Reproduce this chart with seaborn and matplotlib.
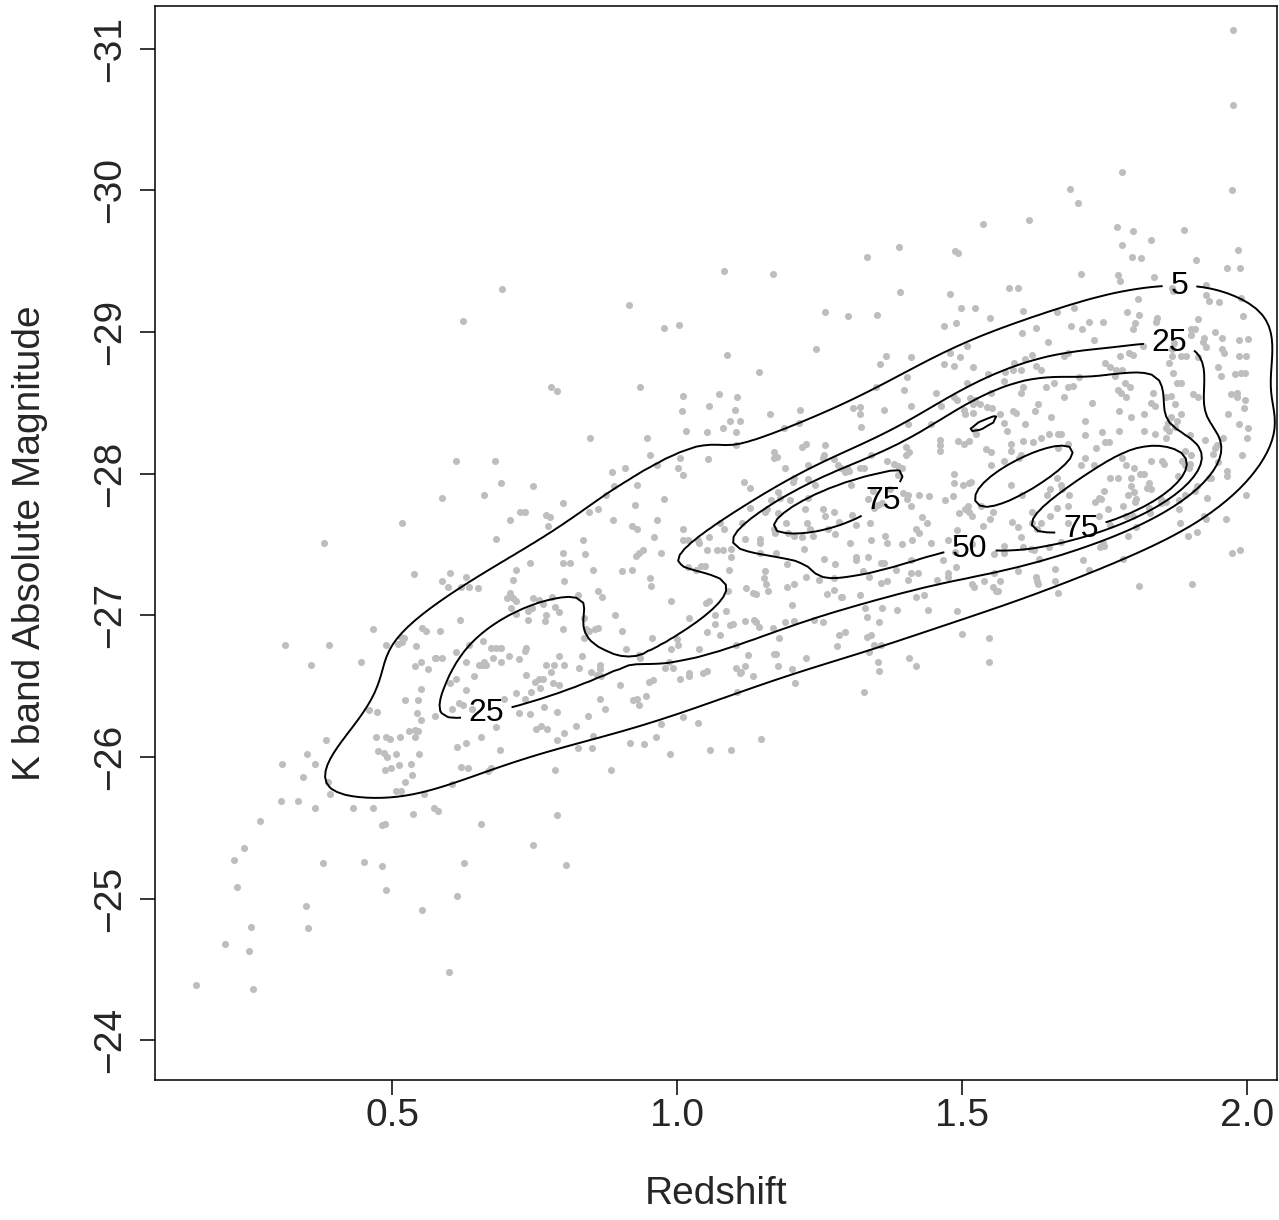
import matplotlib
matplotlib.use("Agg")
import numpy as np
import matplotlib.pyplot as plt
import seaborn as sns
from matplotlib.contour import ContourSet

# (redshift, K band absolute magnitude), grouped by region
upper_sparse = [
    (0.693, -29.30), (0.625, -29.08),
    (1.389, -29.60), (1.333, -29.53), (1.082, -29.43), (1.168, -29.41), (1.391, -29.28), (0.916, -29.19),
    (1.260, -29.14), (1.300, -29.11), (1.351, -29.12), (0.977, -29.03), (1.004, -29.05), (1.088, -28.84),
    (1.244, -28.88), (1.367, -28.83),
]
upper_mid = [
    (1.689, -30.01), (1.704, -29.91), (1.537, -29.76), (1.618, -29.79), (1.488, -29.57), (1.493, -29.56),
    (1.709, -29.41), (1.479, -29.27), (1.582, -29.31), (1.598, -29.31), (1.498, -29.17), (1.523, -29.17),
    (1.549, -29.10), (1.607, -29.15), (1.667, -29.14), (1.696, -29.17), (1.468, -29.04), (1.489, -29.06),
    (1.691, -29.04), (1.711, -29.02), (1.723, -29.07), (1.605, -28.99), (1.630, -29.03), (1.509, -28.90),
    (1.651, -28.93), (1.479, -28.85), (1.411, -28.82), (1.496, -28.82), (1.623, -28.84), (1.679, -28.83),
    (1.686, -28.85), (1.611, -28.81),
]
upper_right = [
    (1.975, -31.13), (1.975, -30.60), (1.781, -30.13), (1.974, -30.00), (1.772, -29.74), (1.800, -29.71),
    (1.832, -29.65), (1.889, -29.72), (1.781, -29.61), (1.798, -29.53), (1.814, -29.52), (1.911, -29.51),
    (1.984, -29.58), (1.965, -29.45), (1.988, -29.45), (1.774, -29.40), (1.777, -29.36), (1.837, -29.39),
    (1.868, -29.31), (1.870, -29.29), (1.928, -29.33), (1.928, -29.26), (1.933, -29.22), (1.951, -29.21),
    (1.989, -29.24), (1.809, -29.23), (1.789, -29.14), (1.811, -29.12), (1.747, -29.07), (1.804, -29.06),
    (1.800, -29.02), (1.842, -29.10), (1.840, -29.07), (1.914, -29.09), (1.993, -29.11), (1.902, -29.02),
    (1.909, -29.02), (1.902, -28.98), (1.944, -29.00), (1.925, -28.96), (1.923, -28.93), (1.928, -28.89),
    (1.956, -28.96), (1.986, -28.94), (2.002, -28.95), (1.732, -28.94), (1.818, -28.90), (1.872, -28.92),
    (1.868, -28.88), (1.956, -28.88), (1.960, -28.85), (1.777, -28.83), (1.793, -28.85), (1.800, -28.84),
    (1.868, -28.83), (1.884, -28.83), (1.893, -28.83), (1.914, -28.82), (1.986, -28.83), (1.998, -28.83),
]
left_mid = [
    (0.518, -27.65), (0.381, -27.51), (0.539, -27.29), (0.467, -26.90), (0.553, -26.91), (0.560, -26.89),
    (0.312, -26.79), (0.389, -26.79), (0.489, -26.79), (0.516, -26.85), (0.521, -26.84), (0.511, -26.80),
    (0.518, -26.81), (0.542, -26.78), (0.358, -26.65), (0.446, -26.67), (0.540, -26.64), (0.551, -26.67),
    (0.563, -26.62), (0.575, -26.70), (0.551, -26.48), (0.523, -26.40), (0.546, -26.40), (0.460, -26.33),
    (0.474, -26.32), (0.544, -26.31), (0.575, -26.29),
]
low_z_core = [
    (0.779, -28.61), (0.789, -28.58), (0.935, -28.61), (1.011, -28.55), (1.009, -28.44), (1.056, -28.48),
    (1.016, -28.30), (1.053, -28.29), (0.847, -28.25), (0.947, -28.25), (0.953, -28.13), (1.005, -28.11),
    (1.054, -28.10), (0.612, -28.09), (0.681, -28.09), (0.909, -28.04), (0.965, -28.06), (1.002, -28.04),
    (1.011, -27.99), (0.886, -28.01), (0.691, -27.93), (0.747, -27.91), (0.889, -27.91), (0.930, -27.92),
    (0.661, -27.85), (0.875, -27.85), (0.977, -27.82), (0.588, -27.83), (0.926, -27.78), (0.800, -27.79),
    (0.725, -27.73), (0.733, -27.73), (0.846, -27.73), (0.861, -27.75), (0.770, -27.71), (0.777, -27.69),
    (0.707, -27.67), (0.774, -27.63), (0.888, -27.67), (0.965, -27.67), (0.921, -27.63), (0.930, -27.61),
    (1.011, -27.61), (0.682, -27.54), (0.960, -27.55), (0.835, -27.53), (1.011, -27.53), (1.019, -27.53),
    (1.037, -27.53), (1.039, -27.51), (1.056, -27.55), (0.839, -27.43), (0.800, -27.44), (0.928, -27.42),
    (0.933, -27.44), (0.940, -27.46), (0.972, -27.44), (1.053, -27.46), (0.742, -27.37), (0.800, -27.37),
    (0.812, -27.37), (0.718, -27.32), (0.853, -27.32), (0.904, -27.31), (0.921, -27.32), (1.019, -27.34),
    (1.033, -27.32), (1.042, -27.35), (1.049, -27.35), (0.602, -27.30), (0.588, -27.24), (0.630, -27.27),
    (0.598, -27.20), (0.621, -27.20), (0.635, -27.20), (0.651, -27.19), (0.712, -27.25), (0.802, -27.24),
    (0.953, -27.26), (0.954, -27.21), (0.707, -27.16), (0.861, -27.17), (0.868, -27.13), (0.826, -27.14),
    (0.702, -27.12), (0.712, -27.12), (0.718, -27.10), (0.747, -27.12), (0.758, -27.11), (0.765, -27.08),
    (0.781, -27.13), (0.709, -27.05), (0.718, -27.01), (0.739, -27.03), (0.746, -27.05), (0.739, -26.97),
    (0.770, -27.00), (0.768, -26.96), (0.786, -27.06), (0.793, -27.02), (0.989, -27.10), (1.056, -27.10),
    (1.051, -27.09), (1.067, -27.00), (0.891, -27.00), (0.837, -26.98), (1.021, -26.98), (0.619, -26.97),
    (0.584, -26.89), (0.800, -26.90), (0.840, -26.90), (0.846, -26.89), (0.861, -26.91), (0.856, -26.90),
    (0.904, -26.89), (1.053, -26.88), (1.067, -26.94), (0.660, -26.82), (0.956, -26.84), (1.000, -26.83),
    (1.002, -26.79), (0.635, -26.79), (0.837, -26.84), (0.674, -26.77), (0.682, -26.77), (0.691, -26.77),
    (0.735, -26.77), (0.733, -26.75), (0.612, -26.74), (0.911, -26.76), (0.989, -26.76), (1.039, -26.76),
    (0.588, -26.70), (0.577, -26.70), (0.933, -26.72), (0.935, -26.70), (0.677, -26.70), (0.705, -26.71),
    (0.723, -26.69), (0.793, -26.71), (0.833, -26.71), (0.691, -26.67), (0.630, -26.67), (0.653, -26.65),
    (0.658, -26.65), (0.665, -26.65), (0.661, -26.67), (0.770, -26.65), (0.784, -26.65), (0.802, -26.65),
    (0.865, -26.65), (0.865, -26.62), (0.860, -26.58), (0.867, -26.57), (0.849, -26.60), (0.828, -26.63),
    (0.986, -26.67), (0.979, -26.63), (0.993, -26.63), (0.779, -26.60), (0.644, -26.57), (0.735, -26.58),
    (1.021, -26.59), (1.021, -26.57), (1.046, -26.59), (1.053, -26.61), (1.005, -26.55), (0.751, -26.53),
    (0.758, -26.55), (0.765, -26.55), (0.602, -26.52), (0.612, -26.55), (0.782, -26.52), (0.793, -26.51),
    (0.900, -26.51), (0.951, -26.53), (0.958, -26.54), (0.760, -26.49), (0.630, -26.47), (0.718, -26.45),
    (0.744, -26.46), (0.696, -26.41), (0.733, -26.41), (0.618, -26.38), (0.625, -26.37), (0.930, -26.41),
    (0.923, -26.40), (0.946, -26.43), (0.933, -26.37), (0.865, -26.41), (0.767, -26.35), (0.874, -26.34),
    (0.605, -26.34), (0.640, -26.34), (0.723, -26.31), (0.742, -26.30), (0.789, -26.32), (0.844, -26.29),
    (1.011, -26.28),
]
mid_z_core = [
    (1.356, -28.77), (1.468, -28.77), (1.486, -28.76), (1.519, -28.75), (1.144, -28.72), (1.404, -28.68),
    (1.509, -28.64), (1.546, -28.70), (1.349, -28.61), (1.398, -28.59), (1.454, -28.57), (1.551, -28.57),
    (1.074, -28.56), (1.105, -28.54), (1.486, -28.54), (1.491, -28.52), (1.514, -28.53), (1.523, -28.52),
    (1.532, -28.49), (1.519, -28.49), (1.544, -28.47), (1.553, -28.46), (1.309, -28.46), (1.321, -28.47),
    (1.411, -28.48), (1.363, -28.45), (1.463, -28.48), (1.102, -28.45), (1.216, -28.45), (1.504, -28.45),
    (1.505, -28.42), (1.519, -28.43), (1.163, -28.42), (1.321, -28.42), (1.093, -28.37), (1.111, -28.37),
    (1.081, -28.32), (1.214, -28.36), (1.405, -28.35), (1.446, -28.35), (1.323, -28.33), (1.188, -28.32),
    (1.104, -28.29), (1.523, -28.30), (1.525, -28.28), (1.461, -28.24), (1.461, -28.20), (1.461, -28.16),
    (1.493, -28.23), (1.504, -28.21), (1.512, -28.23), (1.226, -28.21), (1.219, -28.19), (1.260, -28.20),
    (1.402, -28.19), (1.407, -28.15), (1.402, -28.13), (1.104, -28.20), (1.542, -28.17), (1.551, -28.15),
    (1.170, -28.15), (1.175, -28.12), (1.170, -28.11), (1.258, -28.13), (1.256, -28.11), (1.340, -28.13),
    (1.275, -28.10), (1.302, -28.02), (1.368, -28.09), (1.381, -28.07), (1.388, -28.05), (1.395, -28.04),
    (1.321, -28.04), (1.328, -28.04), (1.282, -28.06), (1.288, -28.04), (1.295, -28.01), (1.298, -28.04),
    (1.189, -28.04), (1.230, -28.06), (1.388, -27.99), (1.551, -28.06), (1.512, -27.93), (1.502, -27.92),
    (1.516, -27.94), (1.486, -28.00), (1.486, -27.93), (1.118, -27.94), (1.128, -27.90), (1.205, -27.97),
    (1.204, -27.94), (1.230, -27.96), (1.242, -27.92), (1.305, -27.92), (1.344, -27.88), (1.374, -27.89),
    (1.396, -27.86), (1.405, -27.85), (1.404, -27.82), (1.425, -27.85), (1.442, -27.84), (1.484, -27.84),
    (1.177, -27.87), (1.181, -27.83), (1.165, -27.81), (1.198, -27.81), (1.230, -27.83), (1.128, -27.76),
    (1.256, -27.75), (1.335, -27.82), (1.346, -27.76), (1.353, -27.78), (1.360, -27.79), (1.411, -27.77),
    (1.470, -27.81), (1.511, -27.77), (1.533, -27.77), (1.505, -27.75), (1.512, -27.73), (1.518, -27.70),
    (1.554, -27.73), (1.154, -27.73), (1.158, -27.75), (1.177, -27.72), (1.225, -27.75), (1.275, -27.73),
    (1.307, -27.71), (1.260, -27.70), (1.075, -27.65), (1.082, -27.61), (1.114, -27.65), (1.191, -27.65),
    (1.228, -27.65), (1.233, -27.61), (1.239, -27.56), (1.284, -27.66), (1.314, -27.64), (1.339, -27.65),
    (1.430, -27.69), (1.439, -27.65), (1.419, -27.61), (1.425, -27.58), (1.495, -27.72), (1.491, -27.60),
    (1.537, -27.63), (1.549, -27.68), (1.170, -27.61), (1.172, -27.58), (1.195, -27.58), (1.205, -27.56),
    (1.219, -27.55), (1.265, -27.61), (1.277, -27.57), (1.119, -27.54), (1.146, -27.54), (1.146, -27.51),
    (1.365, -27.56), (1.368, -27.51), (1.340, -27.53), (1.395, -27.50), (1.412, -27.53), (1.446, -27.51),
    (1.475, -27.53), (1.518, -27.50), (1.070, -27.46), (1.081, -27.46), (1.095, -27.47), (1.095, -27.41),
    (1.304, -27.51), (1.146, -27.44), (1.223, -27.47), (1.174, -27.44), (1.335, -27.41), (1.314, -27.41),
    (1.314, -27.39), (1.258, -27.40), (1.277, -27.36), (1.358, -27.37), (1.363, -27.37), (1.411, -27.39),
    (1.467, -27.39), (1.488, -27.45), (1.556, -27.43), (1.193, -27.36), (1.091, -27.32), (1.326, -27.31),
    (1.384, -27.32), (1.411, -27.30), (1.423, -27.30), (1.405, -27.25), (1.489, -27.34), (1.475, -27.30),
    (1.476, -27.27), (1.456, -27.25), (1.556, -27.30), (1.154, -27.31), (1.152, -27.26), (1.157, -27.22),
    (1.205, -27.22), (1.193, -27.20), (1.226, -27.27), (1.249, -27.25), (1.275, -27.26), (1.337, -27.27),
    (1.358, -27.23), (1.368, -27.24), (1.539, -27.24), (1.554, -27.20), (1.560, -27.17), (1.518, -27.22),
    (1.521, -27.20), (1.089, -27.17), (1.121, -27.19), (1.133, -27.16), (1.139, -27.15), (1.160, -27.17),
    (1.275, -27.18), (1.263, -27.15), (1.289, -27.13), (1.288, -27.13), (1.321, -27.14), (1.419, -27.13),
    (1.433, -27.14), (1.086, -27.03), (1.202, -27.07), (1.330, -27.05), (1.360, -27.05), (1.386, -27.04),
    (1.440, -27.04), (1.491, -27.03), (1.119, -26.96), (1.135, -26.97), (1.139, -26.95), (1.093, -26.93),
    (1.098, -26.94), (1.144, -26.92), (1.189, -26.95), (1.205, -26.96), (1.240, -26.97), (1.256, -26.95),
    (1.333, -26.99), (1.354, -26.95), (1.075, -26.86), (1.104, -26.79), (1.168, -26.91), (1.179, -26.84),
    (1.284, -26.86), (1.295, -26.88), (1.333, -26.85), (1.340, -26.86), (1.346, -26.79), (1.358, -26.79),
    (1.281, -26.78), (1.500, -26.87), (1.547, -26.84), (1.125, -26.72), (1.170, -26.73), (1.174, -26.73),
    (1.226, -26.70), (1.337, -26.74), (1.407, -26.70), (1.353, -26.67), (1.354, -26.61), (1.419, -26.64),
    (1.547, -26.67), (1.104, -26.63), (1.119, -26.64), (1.111, -26.59), (1.112, -26.60), (1.177, -26.64),
    (1.202, -26.62), (1.133, -26.57), (1.207, -26.52), (1.105, -26.46), (1.328, -26.46),
]
high_z_core = [
    (1.591, -28.78), (1.630, -28.76), (1.639, -28.73), (1.575, -28.72), (1.589, -28.73), (1.604, -28.73),
    (1.751, -28.78), (1.760, -28.75), (1.770, -28.73), (1.781, -28.73), (1.768, -28.69), (1.705, -28.68),
    (1.661, -28.64), (1.647, -28.61), (1.686, -28.61), (1.695, -28.62), (1.574, -28.65), (1.607, -28.61),
    (1.604, -28.57), (1.863, -28.78), (1.870, -28.71), (1.884, -28.64), (1.877, -28.64), (1.949, -28.75),
    (1.954, -28.69), (1.979, -28.70), (1.989, -28.71), (1.996, -28.71), (1.774, -28.59), (1.786, -28.64),
    (1.795, -28.61), (1.779, -28.57), (1.788, -28.54), (1.679, -28.54), (1.728, -28.50), (1.633, -28.49),
    (1.628, -28.44), (1.589, -28.44), (1.595, -28.43), (1.567, -28.42), (1.835, -28.57), (1.832, -28.50),
    (1.839, -28.48), (1.858, -28.54), (1.867, -28.55), (1.874, -28.49), (1.884, -28.42), (1.819, -28.42),
    (1.775, -28.44), (1.796, -28.40), (1.905, -28.56), (1.914, -28.54), (1.972, -28.56), (1.982, -28.57),
    (1.982, -28.54), (1.996, -28.52), (1.995, -28.46), (1.967, -28.42), (1.656, -28.40), (1.716, -28.37),
    (1.574, -28.36), (1.611, -28.35), (1.861, -28.36), (1.867, -28.40), (1.877, -28.37), (1.858, -28.32),
    (1.863, -28.30), (1.874, -28.33), (1.986, -28.35), (2.002, -28.32), (2.000, -28.25), (1.579, -28.30),
    (1.653, -28.28), (1.668, -28.28), (1.674, -28.28), (1.639, -28.25), (1.607, -28.23), (1.625, -28.22),
    (1.716, -28.27), (1.746, -28.29), (1.775, -28.30), (1.819, -28.30), (1.839, -28.28), (1.900, -28.27),
    (1.926, -28.24), (1.958, -28.25), (1.751, -28.22), (1.758, -28.22), (1.586, -28.21), (1.686, -28.21),
    (1.668, -28.18), (1.735, -28.18), (1.858, -28.25), (1.947, -28.20), (1.944, -28.18), (1.940, -28.14),
    (1.586, -28.16), (1.604, -28.13), (1.600, -28.11), (1.574, -28.09), (1.781, -28.11), (1.891, -28.16),
    (1.902, -28.13), (1.716, -28.11), (1.709, -28.06), (1.732, -28.06), (1.832, -28.09), (1.851, -28.09),
    (1.854, -28.07), (1.886, -28.09), (1.891, -28.06), (1.900, -28.07), (1.898, -28.04), (1.788, -28.06),
    (1.802, -28.04), (1.949, -28.08), (1.991, -28.13), (1.812, -28.00), (1.819, -28.00), (1.760, -27.97),
    (1.774, -27.97), (1.796, -27.97), (1.667, -27.97), (1.879, -27.98), (1.933, -27.97), (1.937, -27.97),
    (1.965, -28.02), (1.965, -27.98), (1.586, -27.92), (1.654, -27.89), (1.674, -27.92), (1.675, -27.89),
    (1.749, -27.88), (1.796, -27.91), (1.802, -27.87), (1.825, -27.90), (1.832, -27.89), (1.828, -27.93),
    (1.912, -27.91), (1.909, -27.88), (1.605, -27.85), (1.649, -27.85), (1.688, -27.85), (1.740, -27.83),
    (1.733, -27.80), (1.744, -27.82), (1.791, -27.85), (1.805, -27.82), (1.804, -27.80), (1.849, -27.82),
    (1.858, -27.80), (1.881, -27.81), (1.891, -27.85), (1.930, -27.83), (1.998, -27.85), (1.667, -27.76),
    (1.686, -27.77), (1.756, -27.75), (1.782, -27.77), (1.828, -27.76), (1.849, -27.79), (1.881, -27.75),
    (1.623, -27.73), (1.654, -27.70), (1.740, -27.70), (1.788, -27.70), (1.800, -27.70), (1.830, -27.72),
    (1.928, -27.68), (1.925, -27.70), (1.963, -27.68), (1.588, -27.66), (1.623, -27.65), (1.639, -27.65),
    (1.686, -27.65), (1.760, -27.64), (1.805, -27.62), (1.882, -27.65), (1.896, -27.56), (1.912, -27.59),
    (1.598, -27.62), (1.604, -27.55), (1.632, -27.61), (1.791, -27.56),
    (1.574, -27.49), (1.574, -27.44), (1.607, -27.48), (1.621, -27.47), (1.626, -27.46), (1.653, -27.48),
    (1.674, -27.52), (1.742, -27.48), (1.747, -27.51), (1.749, -27.49), (1.635, -27.40), (1.712, -27.39),
    (1.782, -27.40), (1.974, -27.44), (1.988, -27.46), (1.598, -27.31), (1.663, -27.33), (1.723, -27.32),
    (1.567, -27.24), (1.563, -27.17), (1.630, -27.27), (1.632, -27.24), (1.633, -27.22), (1.663, -27.24),
    (1.668, -27.16), (1.811, -27.21), (1.904, -27.22),
]
low_tail = [
    (0.682, -26.21), (0.472, -26.14), (0.489, -26.14), (0.496, -26.13), (0.514, -26.14), (0.530, -26.18),
    (0.540, -26.19), (0.546, -26.18), (0.540, -26.14), (0.384, -26.12), (0.656, -26.14), (0.614, -26.07),
    (0.630, -26.10), (0.689, -26.05), (0.351, -26.02), (0.475, -26.04), (0.486, -26.03), (0.491, -26.00),
    (0.507, -26.02), (0.547, -26.02), (0.307, -25.95), (0.365, -25.95), (0.488, -25.91), (0.498, -25.92),
    (0.512, -25.94), (0.533, -25.95), (0.621, -25.93), (0.633, -25.92), (0.668, -25.90), (0.674, -25.92),
    (0.344, -25.86), (0.535, -25.87), (0.388, -25.82), (0.523, -25.82), (0.605, -25.81), (0.391, -25.74),
    (0.507, -25.76), (0.516, -25.76), (0.556, -25.74), (0.305, -25.69), (0.335, -25.69), (0.365, -25.64),
    (0.432, -25.64), (0.467, -25.64), (0.537, -25.60), (0.574, -25.64), (0.581, -25.62), (0.268, -25.55),
    (0.656, -25.53), (0.482, -25.52), (0.488, -25.53), (0.240, -25.36), (0.223, -25.27), (0.379, -25.25),
    (0.451, -25.26), (0.482, -25.23), (0.626, -25.25), (0.228, -25.08), (0.489, -25.06), (0.614, -25.02),
    (0.349, -24.95), (0.553, -24.92), (0.253, -24.80), (0.353, -24.79), (0.207, -24.68), (0.249, -24.63),
    (0.600, -24.48), (0.156, -24.39), (0.256, -24.36), (0.551, -26.26),
    (0.753, -26.20), (0.761, -26.22), (0.772, -26.20), (0.802, -26.17), (0.823, -26.22), (0.789, -26.12),
    (0.853, -26.15), (0.826, -26.06), (0.851, -26.06), (0.972, -26.23), (1.037, -26.24), (0.918, -26.10),
    (0.942, -26.09), (0.963, -26.14), (0.988, -26.02), (1.058, -26.05), (1.095, -26.05), (1.147, -26.13),
    (0.786, -25.91), (0.884, -25.91), (0.789, -25.59), (0.747, -25.38), (0.805, -25.24),
]

groups = [upper_sparse, upper_mid, upper_right, left_mid, low_z_core, mid_z_core, high_z_core, low_tail]
redshift = np.array([p[0] for g in groups for p in g])
kmag = np.array([p[1] for g in groups for p in g])

# contour labels as printed, and the density-mass proportions that trace them on this sample
contour_labels = ["5", "25", "50", "75"]
contour_props = [0.26, 0.585, 0.77, 0.945]
label_spots = [(1.882, -29.21), (1.865, -28.94), (1.514, -27.44), (1.388, -27.67), (1.704, -27.69), (0.663, -26.36)]

sns.set_style("ticks")
plt.rcParams["font.family"] = ["Liberation Sans", "DejaVu Sans"]

fig = plt.figure(figsize=(12.79, 12.2), dpi=100)
ax = fig.add_axes([155 / 1279, 1 - 1080 / 1220, 1122 / 1279, 1074 / 1220])

sns.scatterplot(x=redshift, y=kmag, color="#bebebe", s=26, linewidth=0, edgecolor=None, ax=ax, zorder=1)
sns.kdeplot(x=redshift, y=kmag, levels=contour_props, color="black", linewidths=1.4, bw_adjust=0.85,
            ax=ax, zorder=2)

ax.set_xlim(0.084, 2.053)
ax.set_ylim(-23.72, -31.30)
ax.set_xticks([0.5, 1.0, 1.5, 2.0])
ax.set_xticklabels(["0.5", "1.0", "1.5", "2.0"])
ax.set_yticks([-31, -30, -29, -28, -27, -26, -25, -24])
ax.set_yticklabels(["\u221231", "\u221230", "\u221229", "\u221228", "\u221227", "\u221226", "\u221225", "\u221224"],
                   rotation=90, va="center")
ax.tick_params(axis="both", direction="out", length=11, width=1.1, labelsize=28, color="black", pad=2)
ax.tick_params(axis="y", pad=8)
for sp in ax.spines.values():
    sp.set_visible(True)
    sp.set_color("black")
    sp.set_linewidth(1.1)
ax.set_xlabel("Redshift", fontsize=28, labelpad=30)
ax.set_ylabel("K band Absolute Magnitude", fontsize=28, labelpad=32)

cs = [c for c in ax.collections if isinstance(c, ContourSet)][0]
fmt = dict(zip(cs.levels, contour_labels))
ax.clabel(cs, cs.levels, inline=True, fmt=fmt, fontsize=23, manual=label_spots, inline_spacing=8)
for t in cs.labelTexts:
    t.set_rotation(0)

fig.savefig("out.png", dpi=100)
